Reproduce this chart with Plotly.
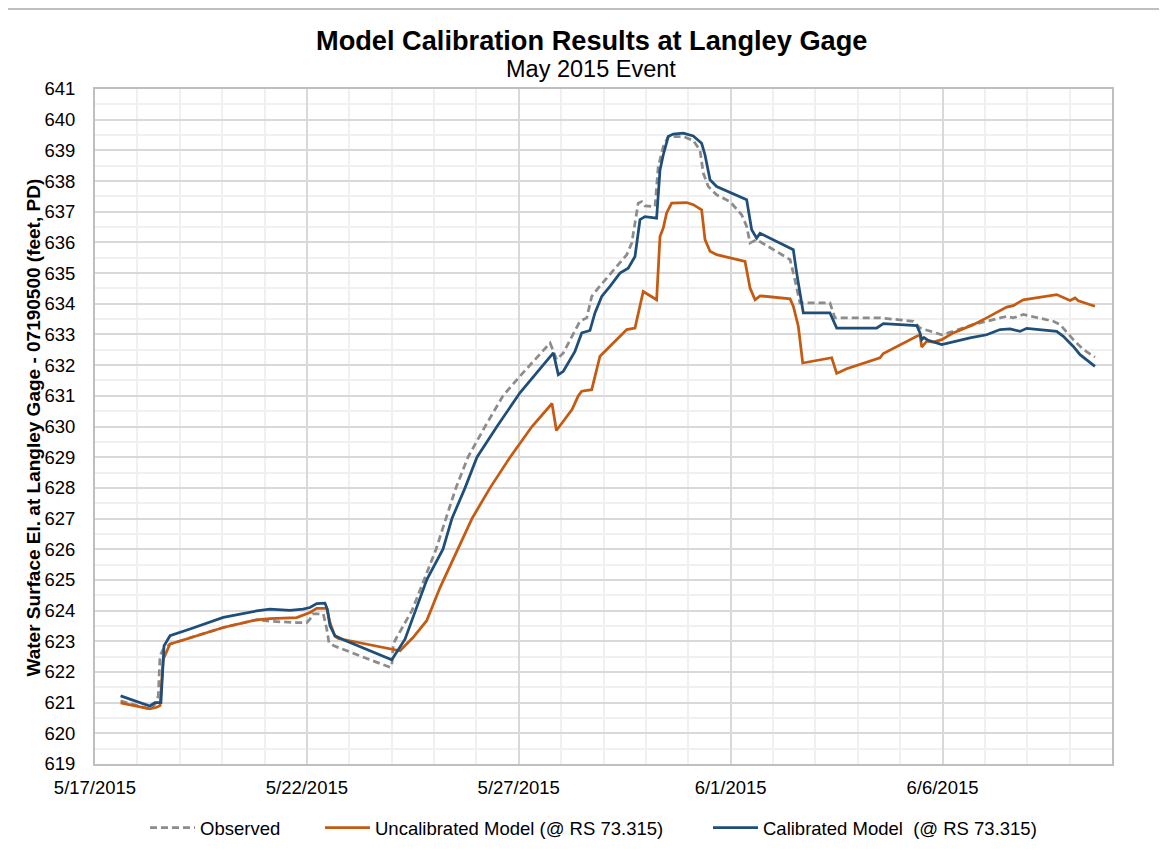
import plotly.graph_objects as go

# ---------------- data ----------------
obs_time = [
    "2015-05-17 14:30", "2015-05-18 07:00", "2015-05-18 10:00", "2015-05-18 11:50", "2015-05-18 12:50",
    "2015-05-18 14:40", "2015-05-18 18:30", "2015-05-19 00:10", "2015-05-19 09:35", "2015-05-20 00:40",
    "2015-05-20 19:35", "2015-05-21 03:05", "2015-05-21 18:15", "2015-05-21 23:55", "2015-05-22 01:45",
    "2015-05-22 03:10", "2015-05-22 09:20", "2015-05-22 11:15", "2015-05-22 12:30", "2015-05-22 15:20",
    "2015-05-23 23:05", "2015-05-24 00:05", "2015-05-24 00:55", "2015-05-24 02:55", "2015-05-24 11:30",
    "2015-05-24 18:20", "2015-05-25 01:10", "2015-05-25 06:45", "2015-05-25 12:25", "2015-05-25 19:15",
    "2015-05-26 04:55", "2015-05-26 15:05", "2015-05-27 00:40", "2015-05-27 17:45", "2015-05-27 21:30",
    "2015-05-28 01:15", "2015-05-28 10:40", "2015-05-28 14:30", "2015-05-28 17:20", "2015-05-28 21:00",
    "2015-05-29 13:10", "2015-05-29 16:00", "2015-05-29 19:40", "2015-05-29 21:40", "2015-05-29 23:30",
    "2015-05-30 05:10", "2015-05-30 07:00", "2015-05-30 09:50", "2015-05-30 12:40", "2015-05-30 21:10",
    "2015-05-31 02:50", "2015-05-31 06:40", "2015-05-31 08:30", "2015-05-31 11:20", "2015-05-31 16:05",
    "2015-05-31 23:40", "2015-06-01 06:15", "2015-06-01 09:05", "2015-06-01 11:00", "2015-06-01 14:45",
    "2015-06-02 00:10", "2015-06-02 09:40", "2015-06-02 12:25", "2015-06-02 15:15", "2015-06-03 08:15",
    "2015-06-03 11:05", "2015-06-04 12:35", "2015-06-05 07:30", "2015-06-05 11:15", "2015-06-05 23:35",
    "2015-06-06 06:05", "2015-06-06 17:25", "2015-06-07 12:20", "2015-06-07 16:05", "2015-06-07 21:45",
    "2015-06-08 14:45", "2015-06-08 18:35", "2015-06-09 02:05", "2015-06-09 07:45", "2015-06-09 14:20",
]
obs_wse = [
    621.06, 620.79, 620.95, 621.22, 622.53,
    622.74, 622.91, 623.01, 623.18, 623.45,
    623.70, 623.65, 623.61, 623.61, 623.72,
    623.89, 623.89, 623.40, 622.96, 622.85,
    622.15, 622.20, 622.91, 623.13, 624.00,
    625.00, 626.00, 627.00, 628.00, 629.00,
    630.00, 631.00, 631.64, 632.72, 632.18,
    632.40, 633.43, 633.54, 634.24, 634.51,
    635.60, 635.98, 637.28, 637.33, 637.19,
    637.17, 638.47, 639.12, 639.45, 639.45,
    639.32, 639.00, 638.26, 637.82, 637.55,
    637.33, 636.90, 636.52, 635.98, 636.09,
    635.76, 635.44, 634.78, 634.03, 634.03,
    633.54, 633.54, 633.43, 633.21, 632.99,
    633.10, 633.32, 633.59, 633.54, 633.65,
    633.43, 633.32, 632.83, 632.51, 632.26,
]

uncal_time = [
    "2015-05-17 14:30", "2015-05-18 07:00", "2015-05-18 10:55", "2015-05-18 12:50", "2015-05-18 14:40",
    "2015-05-18 18:30", "2015-05-19 00:10", "2015-05-19 09:35", "2015-05-20 00:40", "2015-05-20 19:35",
    "2015-05-21 03:05", "2015-05-21 18:15", "2015-05-22 01:45", "2015-05-22 05:35", "2015-05-22 11:15",
    "2015-05-22 13:05", "2015-05-22 15:55", "2015-05-22 17:50", "2015-05-24 02:55", "2015-05-24 04:45",
    "2015-05-24 12:15", "2015-05-24 19:50", "2015-05-25 03:25", "2015-05-25 13:35", "2015-05-25 21:30",
    "2015-05-26 07:45", "2015-05-26 19:05", "2015-05-27 07:30", "2015-05-27 18:50", "2015-05-27 21:20",
    "2015-05-28 00:30", "2015-05-28 06:10", "2015-05-28 09:45", "2015-05-28 11:40", "2015-05-28 17:20",
    "2015-05-28 19:10", "2015-05-28 22:00", "2015-05-29 01:50", "2015-05-29 13:10", "2015-05-29 17:50",
    "2015-05-29 19:40", "2015-05-29 22:30", "2015-05-30 06:05", "2015-05-30 08:00", "2015-05-30 09:50",
    "2015-05-30 11:45", "2015-05-30 14:35", "2015-05-30 23:05", "2015-05-31 02:50", "2015-05-31 07:35",
    "2015-05-31 09:30", "2015-05-31 12:20", "2015-05-31 16:05", "2015-06-01 08:10", "2015-06-01 11:00",
    "2015-06-01 13:50", "2015-06-01 16:40", "2015-06-02 09:40", "2015-06-02 11:30", "2015-06-02 14:20",
    "2015-06-02 16:50", "2015-06-03 09:15", "2015-06-03 12:05", "2015-06-03 17:45", "2015-06-04 12:35",
    "2015-06-04 14:30", "2015-06-05 09:25", "2015-06-05 11:15", "2015-06-05 12:15", "2015-06-05 15:05",
    "2015-06-05 18:45", "2015-06-05 23:35", "2015-06-06 06:05", "2015-06-06 17:25", "2015-06-07 01:00",
    "2015-06-07 12:20", "2015-06-07 16:05", "2015-06-07 21:45", "2015-06-08 16:40", "2015-06-09 00:15",
    "2015-06-09 03:05", "2015-06-09 04:55", "2015-06-09 14:20",
]
uncal_wse = [
    620.99, 620.80, 620.85, 620.90, 622.42,
    622.91, 623.01, 623.18, 623.45, 623.70,
    623.74, 623.77, 623.94, 624.07, 624.07,
    623.61, 623.16, 623.09, 622.71, 622.69,
    623.13, 623.67, 624.75, 626.00, 627.00,
    628.00, 629.00, 630.00, 630.75, 629.87,
    630.10, 630.55, 631.00, 631.15, 631.20,
    631.64, 632.29, 632.51, 633.16, 633.21,
    633.70, 634.40, 634.13, 636.19, 636.47,
    636.96, 637.28, 637.30, 637.23, 637.06,
    636.09, 635.71, 635.60, 635.38, 634.51,
    634.13, 634.26, 634.16, 633.92, 633.27,
    632.07, 632.24, 631.73, 631.88, 632.24,
    632.38, 632.94, 632.98, 632.59, 632.78,
    632.75, 632.83, 633.05, 633.32, 633.54,
    633.89, 633.94, 634.13, 634.30, 634.11,
    634.19, 634.10, 633.92,
]

cal_time = [
    "2015-05-17 14:30", "2015-05-18 07:00", "2015-05-18 10:00", "2015-05-18 13:20", "2015-05-18 15:05",
    "2015-05-18 18:30", "2015-05-19 05:50", "2015-05-20 00:40", "2015-05-20 19:35", "2015-05-21 03:05",
    "2015-05-21 14:25", "2015-05-21 21:50", "2015-05-22 01:45", "2015-05-22 05:35", "2015-05-22 10:15",
    "2015-05-22 11:35", "2015-05-22 13:05", "2015-05-22 15:55", "2015-05-22 20:40", "2015-05-24 00:05",
    "2015-05-24 07:35", "2015-05-24 20:00", "2015-05-25 05:05", "2015-05-25 10:10", "2015-05-25 17:35",
    "2015-05-26 00:20", "2015-05-26 11:40", "2015-05-27 00:40", "2015-05-27 19:35", "2015-05-27 22:25",
    "2015-05-28 01:15", "2015-05-28 07:50", "2015-05-28 11:40", "2015-05-28 16:20", "2015-05-28 19:10",
    "2015-05-28 23:00", "2015-05-29 03:40", "2015-05-29 09:20", "2015-05-29 14:00", "2015-05-29 17:50",
    "2015-05-29 20:40", "2015-05-29 23:30", "2015-05-30 06:05", "2015-05-30 08:00", "2015-05-30 09:50",
    "2015-05-30 12:40", "2015-05-30 15:30", "2015-05-30 21:10", "2015-05-31 02:50", "2015-05-31 07:35",
    "2015-05-31 09:30", "2015-05-31 12:20", "2015-05-31 16:05", "2015-06-01 09:05", "2015-06-01 11:55",
    "2015-06-01 14:45", "2015-06-01 16:40", "2015-06-02 11:30", "2015-06-02 13:25", "2015-06-02 17:10",
    "2015-06-03 08:15", "2015-06-03 10:10", "2015-06-03 12:05", "2015-06-04 10:45", "2015-06-04 14:30",
    "2015-06-05 09:25", "2015-06-05 11:15", "2015-06-05 12:15", "2015-06-05 13:30", "2015-06-05 15:55",
    "2015-06-05 23:35", "2015-06-06 15:35", "2015-06-07 01:00", "2015-06-07 08:35", "2015-06-07 14:15",
    "2015-06-07 19:55", "2015-06-07 23:40", "2015-06-08 16:40", "2015-06-08 20:25", "2015-06-09 02:05",
    "2015-06-09 05:55", "2015-06-09 14:20",
]
cal_wse = [
    621.22, 620.89, 621.00, 621.00, 622.85,
    623.18, 623.40, 623.78, 623.99, 624.05,
    624.01, 624.05, 624.10, 624.23, 624.24,
    624.05, 623.50, 623.18, 623.05, 622.40,
    623.07, 625.02, 626.00, 627.00, 628.00,
    629.00, 630.00, 631.10, 632.40, 631.69,
    631.80, 632.45, 633.05, 633.13, 633.70,
    634.24, 634.57, 635.00, 635.16, 635.54,
    636.74, 636.84, 636.79, 638.36, 638.85,
    639.45, 639.53, 639.56, 639.47, 639.23,
    638.85, 638.04, 637.82, 637.39, 636.41,
    636.14, 636.30, 635.76, 635.00, 633.70,
    633.70, 633.48, 633.21, 633.21, 633.35,
    633.29, 633.05, 632.83, 632.90, 632.81,
    632.67, 632.89, 632.99, 633.16, 633.18,
    633.10, 633.20, 633.10, 632.94, 632.61,
    632.34, 631.96,
]

series_names = [
    "Observed",
    "Uncalibrated Model (@ RS 73.315)",
    "Calibrated Model  (@ RS 73.315)",
]
x_range = ["2015-05-17", "2015-06-10"]
y_range = [619, 641]

FONT = "Liberation Sans, Arial, sans-serif"

fig = go.Figure()
fig.add_trace(go.Scatter(
    x=obs_time, y=obs_wse, mode="lines", name=series_names[0],
    line=dict(color="#8C8C8C", width=2.75, dash="7px,4px"), legend="legend",
))
fig.add_trace(go.Scatter(
    x=uncal_time, y=uncal_wse, mode="lines", name=series_names[1],
    line=dict(color="#C55A11", width=2.75), legend="legend2",
))
fig.add_trace(go.Scatter(
    x=cal_time, y=cal_wse, mode="lines", name=series_names[2].replace("  ", "\u00a0 "),
    line=dict(color="#1F4E79", width=2.75), legend="legend3",
))

# page body adds an 8px offset; positions below are given in screen pixels
OFF = 8
W, H = 1167, 850
L, T = 95 - OFF, 89 - OFF
R = W - (1112 - OFF)
B = H - (765 - OFF)
pw, ph = W - L - R, H - T - B


def px(x):
    return (x - OFF - L) / pw


def py(y):
    return (H - B - (y - OFF)) / ph


legend_common = dict(
    orientation="h", yanchor="middle", xanchor="left",
    font=dict(family=FONT, size=18.5, color="#000000"),
    bgcolor="rgba(0,0,0,0)", itemwidth=45,
)

fig.update_layout(
    width=W, height=H,
    margin=dict(l=L, r=R, t=T, b=B),
    paper_bgcolor="white", plot_bgcolor="white",
    font=dict(family=FONT, size=18.5, color="#000000"),
    showlegend=True,
    legend=dict(x=px(145), y=py(828), **legend_common),
    legend2=dict(x=px(320), y=py(828), **legend_common),
    legend3=dict(x=px(708), y=py(828), **legend_common),
    xaxis=dict(
        type="date", range=x_range,
        tick0="2015-05-17", dtick=5 * 86400000,
        tickformat="%-m/%-d/%Y",
        showgrid=True, gridcolor="#D9D9D9", gridwidth=1.5,
        minor=dict(dtick=86400000, showgrid=True, gridcolor="#F0F0F0", gridwidth=1.5),
        showline=True, mirror=True, linecolor="#BFBFBF", linewidth=2,
        ticks="", ticklabelstandoff=6,
        tickfont=dict(family=FONT, size=18.5, color="#000000"),
        zeroline=False,
    ),
    yaxis=dict(
        range=y_range, dtick=1, tick0=619,
        showgrid=True, gridcolor="#D9D9D9", gridwidth=1.5,
        minor=dict(dtick=0.5, showgrid=True, gridcolor="#F0F0F0", gridwidth=1.5),
        showline=True, mirror=True, linecolor="#BFBFBF", linewidth=2,
        ticks="", ticklabelstandoff=14,
        tickfont=dict(family=FONT, size=18.5, color="#000000"),
        zeroline=False,
    ),
    annotations=[
        dict(text="<b>Model Calibration Results at Langley Gage</b>", x=px(591), y=py(40),
             xref="paper", yref="paper", xanchor="center", yanchor="middle",
             showarrow=False, font=dict(family=FONT, size=27.2, color="#000000")),
        dict(text="May 2015 Event", x=px(591), y=py(69),
             xref="paper", yref="paper", xanchor="center", yanchor="middle",
             showarrow=False, font=dict(family=FONT, size=23.5, color="#000000")),
        dict(text="<b>Water Surface El. at Langley Gage - 07190500 (feet, PD)</b>",
             x=px(33), y=py(428), xref="paper", yref="paper", textangle=-90,
             xanchor="center", yanchor="middle", showarrow=False,
             font=dict(family=FONT, size=19, color="#000000")),
    ],
    shapes=[
        dict(type="line", xref="paper", yref="paper", x0=px(7), x1=px(7), y0=py(9), y1=py(880),
             line=dict(color="#BFBFBF", width=2)),
        dict(type="line", xref="paper", yref="paper", x0=px(7), x1=px(1200), y0=py(9), y1=py(9),
             line=dict(color="#BFBFBF", width=2)),
    ],
)

fig.write_html("out.html")
